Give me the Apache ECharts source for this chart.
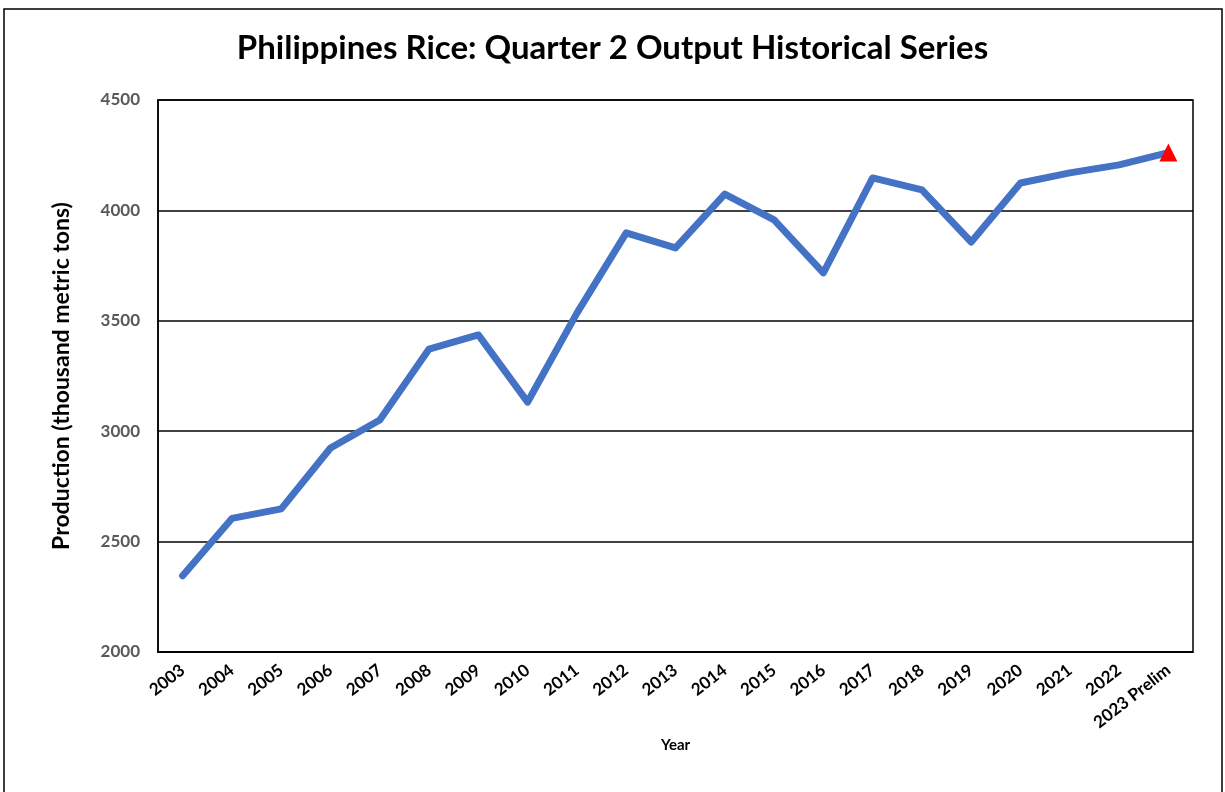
<!DOCTYPE html>
<html><head><meta charset="utf-8">
<script src="https://cdn.jsdelivr.net/npm/echarts@6/dist/echarts.min.js"></script>
<style>html,body{margin:0;padding:0;background:#fff}#c{width:1225px;height:792px}</style>
</head><body><div id="c"></div>
<script>
const categories = ['2003','2004','2005','2006','2007','2008','2009','2010','2011','2012','2013','2014','2015','2016','2017','2018','2019','2020','2021','2022','2023 Prelim'];
const production = [2345,2605,2648,2924,3051,3372,3436,3132,3535,3898,3830,4074,3957,3717,4147,4093,3857,4124,4170,4206,4262];
const yTicks = {min:2000, max:4500, interval:500};
const titleText = 'Philippines Rice: Quarter 2 Output Historical Series';
const xName = 'Year';
const yName = 'Production (thousand metric tons)';

const chart = echarts.init(document.getElementById('c'));
const lastIdx = production.length - 1;
chart.setOption({
  animation:false,
  backgroundColor:'#fff',
  title:{text:titleText,left:'center',top:27,textStyle:{fontFamily:'Lato',fontWeight:'bold',fontSize:33,color:'#000'}},
  graphic:[{type:'rect',shape:{x:4,y:9,width:1218,height:800},style:{fill:null,stroke:'#000',lineWidth:1.5},silent:true}],
  grid:{left:158,right:32,top:100,bottom:140,show:true,borderColor:'#000',borderWidth:1.5,backgroundColor:'transparent'},
  xAxis:{type:'category',data:categories,boundaryGap:true,
    name:xName,nameLocation:'middle',nameGap:84,nameTextStyle:{fontFamily:'Lato',fontWeight:'bold',fontSize:15,color:'#000'},
    axisLine:{lineStyle:{color:'#000',width:1.5}},axisTick:{show:false},
    axisLabel:{rotate:38,interval:0,margin:16,fontFamily:'Lato',fontWeight:'bold',fontSize:17,color:'#000'}},
  yAxis:{type:'value',min:yTicks.min,max:yTicks.max,interval:yTicks.interval,
    name:yName,nameLocation:'middle',nameGap:85,nameTextStyle:{fontFamily:'Lato',fontWeight:'bold',fontSize:23,color:'#000'},
    axisLine:{show:true,lineStyle:{color:'#000',width:1.5}},axisTick:{show:false},
    axisLabel:{margin:18,fontFamily:'Lato',fontWeight:'bold',fontSize:17,color:'#595959',formatter:v=>String(v)},
    splitLine:{lineStyle:{color:'#000',width:1.5}}},
  series:[{type:'line',data:production.map((v,i)=> i===lastIdx ? {value:v,symbol:'triangle',symbolSize:18,itemStyle:{color:'#FF0000'}} : v),
    showSymbol:true,symbol:'none',
    lineStyle:{color:'#4472C4',width:7,cap:'round',join:'round'},itemStyle:{color:'#4472C4'},z:3}]
});
</script></body></html>
